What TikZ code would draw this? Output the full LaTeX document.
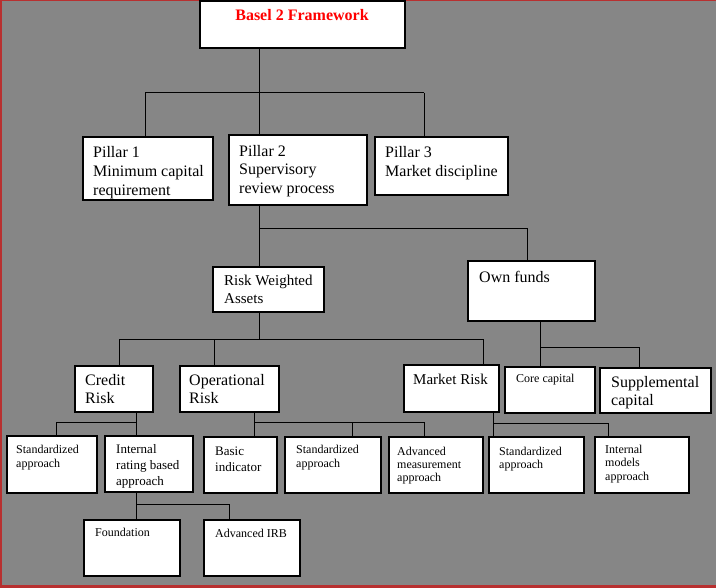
\documentclass[tikz,border=0pt]{standalone}
\usepackage{fontspec}
\setmainfont{Liberation Serif}
\definecolor{bggray}{HTML}{868686}
\definecolor{edgered}{HTML}{B83030}
\newcommand\mybox[5]{\node[box, minimum width={#4-#2}, minimum height={#5-#3}] (#1) at (#2,#3) {};}
\newcommand\mytext[6]{\node[lbl, font=\fontsize{#4}{#5}\selectfont] (#1) at (#2,{#3-0.7*#5}) {\strut #6};}
\begin{document}
\begin{tikzpicture}[x=1pt,y=-1pt,
  box/.style={draw=black, line width=1.2pt, fill=white, rectangle, inner sep=0pt, outer sep=0pt, anchor=north west},
  conn/.style={draw=black, line width=1pt},
  lbl/.style={anchor=north west, inner sep=0pt, align=left, text=black}]
\useasboundingbox (0,0) rectangle (716,588);
\fill[bggray] (0,0) rectangle (716,588);
\fill[edgered] (0,0) rectangle (716,1.5);
\fill[edgered] (0,0) rectangle (1.5,588);
\fill[edgered] (0,585) rectangle (716,588);

% boxes
\mybox{basel}{200}{1}{405}{48}
\mybox{p1}{83}{137}{213}{200}
\mybox{p2}{229}{135}{367}{205}
\mybox{p3}{375}{137}{508}{195}
\mybox{rwa}{213}{267}{324}{312}
\mybox{own}{468}{261}{595}{321}
\mybox{credit}{75}{366}{153}{412}
\mybox{oper}{180}{366}{279}{412}
\mybox{market}{404}{365}{499}{412}
\mybox{core}{505}{367}{595}{413}
\mybox{supp}{600}{368}{711}{413}
\mybox{std1}{7}{436}{97}{493}
\mybox{irb}{105}{436}{193}{492}
\mybox{basic}{204}{437}{277}{493}
\mybox{std2}{285}{437}{381}{493}
\mybox{advm}{389}{437}{483}{493}
\mybox{std3}{489}{437}{584}{493}
\mybox{intm}{595}{437}{689}{493}
\mybox{found}{84}{520}{180}{576}
\mybox{advirb}{204}{520}{300}{576}

% connectors: level 1
\coordinate (j1) at (259,93);
\coordinate (j1l) at (145,93);
\coordinate (j1r) at (424,93);
\draw[conn] (basel.south -| j1) -- (j1);
\draw[conn] (j1l) -- (j1r);
\draw[conn] (j1l) -- (j1l |- p1.north);
\draw[conn] (j1) -- (j1 |- p2.north);
\draw[conn] (j1r) -- (j1r |- p3.north);
% level 2
\coordinate (j2l) at (259,229);
\coordinate (j2r) at (527,229);
\draw[conn] (p2.south -| j2l) -- (j2l |- rwa.north);
\draw[conn] (j2l) -- (j2r) -- (j2r |- own.north);
% level 3 (RWA)
\coordinate (j3) at (259,340);
\coordinate (j3l) at (119,340);
\coordinate (j3m) at (214,340);
\coordinate (j3r) at (483,340);
\draw[conn] (rwa.south -| j3) -- (j3);
\draw[conn] (j3l |- credit.north) -- (j3l) -- (j3r) -- (j3r |- market.north);
\draw[conn] (j3m) -- (j3m |- oper.north);
% own funds
\coordinate (j4) at (540,348);
\coordinate (j4r) at (639,348);
\draw[conn] (own.south -| j4) -- (j4 |- core.north);
\draw[conn] (j4) -- (j4r) -- (j4r |- supp.north);
% credit risk
\coordinate (j5) at (136,423);
\coordinate (j5l) at (56,423);
\draw[conn] (credit.south -| j5) -- (j5 |- irb.north);
\draw[conn] (j5) -- (j5l) -- (j5l |- std1.north);
% operational risk
\coordinate (j6) at (254,423);
\coordinate (j6m) at (352,423);
\coordinate (j6r) at (424,423);
\draw[conn] (oper.south -| j6) -- (j6 |- basic.north);
\draw[conn] (j6) -- (j6r) -- (j6r |- advm.north);
\draw[conn] (j6m) -- (j6m |- std2.north);
% market risk
\coordinate (j7) at (493,424);
\coordinate (j7r) at (608,424);
\draw[conn] (market.south -| j7) -- (j7 |- std3.north);
\draw[conn] (j7) -- (j7r) -- (j7r |- intm.north);
% internal rating based
\coordinate (j8) at (136,505);
\coordinate (j8r) at (229,505);
\draw[conn] (irb.south -| j8) -- (j8 |- found.north);
\draw[conn] (j8) -- (j8r) -- (j8r |- advirb.north);

% texts
\node[font=\fontsize{16}{19}\selectfont\bfseries, text=red, anchor=base, inner sep=0pt] (tt) at (302,21) {Basel 2 Framework};
\mytext{p1t}{93}{157}{16}{19}{Pillar 1\\Minimum capital\\requirement}
\mytext{p2t}{239}{156}{16}{18.5}{Pillar 2\\Supervisory\\review process}
\mytext{p3t}{385}{157}{16}{19.5}{Pillar 3\\Market discipline}
\mytext{rwat}{224}{285.5}{15}{18}{Risk Weighted\\Assets}
\mytext{ownt}{479}{282}{16}{19}{Own funds}
\mytext{credt}{85}{385.5}{16}{18}{Credit\\Risk}
\mytext{opert}{189}{385}{16}{18}{Operational\\Risk}
\mytext{markt}{413}{384}{15}{18}{Market Risk}
\mytext{coret}{516}{382}{12}{14}{Core capital}
\mytext{suppt}{611}{387}{16}{18}{Supplemental\\capital}
\mytext{std1t}{16}{453}{12}{14}{Standardized\\approach}
\mytext{irbt}{116}{453}{13}{16}{Internal\\rating based\\approach}
\mytext{basict}{215}{455}{13}{16}{Basic\\indicator}
\mytext{std2t}{296}{453}{12}{14}{Standardized\\approach}
\mytext{advmt}{397}{455}{12}{13}{Advanced\\measurement\\approach}
\mytext{std3t}{499}{455}{12}{13}{Standardized\\approach}
\mytext{intmt}{605}{453}{12}{13.5}{Internal\\models\\approach}
\mytext{foundt}{95}{536}{12}{14}{Foundation}
\mytext{advirbt}{215}{537}{12}{14}{Advanced IRB}
\end{tikzpicture}
\end{document}
